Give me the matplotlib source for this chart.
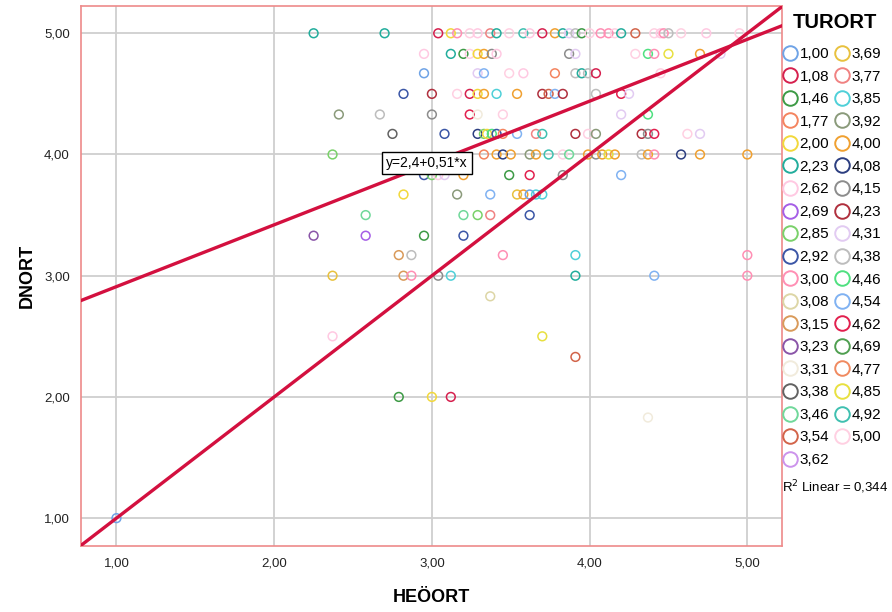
import matplotlib
matplotlib.use('Agg')
import matplotlib.pyplot as plt
from matplotlib.lines import Line2D

plt.rcParams['font.family'] = ['Liberation Sans', 'DejaVu Sans']

# TURORT categories and their colours (legend order)
tur_labels = ['1,00', '1,08', '1,46', '1,77', '2,00', '2,23', '2,62', '2,69', '2,85', '2,92',
              '3,00', '3,08', '3,15', '3,23', '3,31', '3,38', '3,46', '3,54', '3,62',
              '3,69', '3,77', '3,85', '3,92', '4,00', '4,08', '4,15', '4,23', '4,31', '4,38',
              '4,46', '4,54', '4,62', '4,69', '4,77', '4,85', '4,92', '5,00']
tur_colors = ['#6fa3e6', '#d6204e', '#3d9a45', '#f4845f', '#f2d83b', '#22ad9c', '#ffc9e2',
              '#a55ee6', '#7ad16a', '#3b56a6', '#ff8fb4', '#ddd6a6', '#d99a5a', '#8a55a8',
              '#f1ebdc', '#626262', '#70d89a', '#d2644a', '#cc93ec',
              '#e8c13e', '#f08282', '#4fd0d8', '#8a9a7a', '#f0a030', '#2c3e80', '#8c8c8c',
              '#b0303e', '#e2cbf2', '#bdbdbd', '#4fe080', '#80b2f2', '#e2204e', '#4f9f50',
              '#f08a60', '#e8e040', '#3fc0b0', '#ffd0e2']

# points: HEÖORT, DNORT, TURORT
heoort = [2.25, 2.70, 3.04, 3.12, 3.16, 3.24, 3.29, 3.37, 3.41, 3.49, 3.58, 3.62, 3.70, 3.78,
          3.83, 3.87, 3.91, 3.95, 4.00, 4.07, 4.12, 4.16, 4.20, 4.29, 4.41, 4.45, 4.47, 4.50,
          4.58, 4.74, 4.95,
          2.95, 3.12, 3.20, 3.24, 3.29, 3.33, 3.38, 3.41, 3.87, 3.91, 4.29, 4.37, 4.41, 4.50,
          4.70, 4.83,
          2.95, 3.29, 3.33, 3.49, 3.58, 3.78, 3.91, 3.95, 3.99, 4.04, 4.45,
          2.82, 3.00, 3.16, 3.24, 3.29, 3.33, 3.41, 3.54, 3.70, 3.74, 3.78, 3.83, 4.04, 4.20,
          4.25,
          2.41, 2.67, 3.00, 3.24, 3.29, 3.45, 4.20, 4.37,
          2.75, 3.08, 3.29, 3.33, 3.35, 3.38, 3.41, 3.45, 3.54, 3.66, 3.70, 3.91, 3.99, 4.04,
          4.33, 4.37, 4.41, 4.62, 4.70,
          2.37, 3.33, 3.41, 3.45, 3.50, 3.62, 3.66, 3.74, 3.83, 3.87, 3.99, 4.04, 4.08, 4.12,
          4.16, 4.33, 4.37, 4.41, 4.58, 4.70, 5.00,
          2.95, 3.00, 3.04, 3.08, 3.20, 3.49, 3.62, 3.83, 4.20,
          2.82, 3.16, 3.37, 3.54, 3.58, 3.62, 3.66, 3.70,
          2.58, 3.20, 3.29, 3.37, 3.62,
          2.25, 2.58, 2.95, 3.20,
          2.79, 2.87, 3.45, 3.91, 5.00,
          2.37, 2.82, 2.87, 3.04, 3.12, 3.91, 4.41, 5.00,
          3.37, 2.37, 3.70, 3.91, 2.79, 3.00, 3.12, 4.37, 1.00]
dnort = [5.00] * 31 + [4.83] * 16 + [4.67] * 11 + [4.50] * 15 + [4.33] * 8 + [4.17] * 19 \
    + [4.00] * 21 + [3.83] * 9 + [3.67] * 8 + [3.50] * 5 + [3.33] * 4 + [3.17] * 5 \
    + [3.00] * 8 + [2.83, 2.50, 2.50, 2.33, 2.00, 2.00, 2.00, 1.83, 1.00]
turort = ['2,23', '2,23', '1,08', '2,00', '3,00', '5,00', '2,62', '3,77', '2,23', '5,00', '4,92',
          '2,62', '1,08', '4,00', '2,23', '4,31', '4,38', '1,46', '5,00', '3,00', '3,00', '5,00',
          '2,23', '3,54', '5,00', '2,62', '3,00', '4,38', '5,00', '2,62', '5,00',
          '2,62', '2,23', '1,46', '5,00', '2,00', '4,00', '4,15', '2,62', '4,15', '4,31', '5,00',
          '4,46', '3,00', '4,85', '4,00', '4,31',
          '1,00', '4,31', '4,54', '5,00', '2,62', '1,77', '4,38', '2,23', '4,38', '1,08', '5,00',
          '2,92', '4,23', '5,00', '1,08', '2,00', '4,00', '3,85', '4,00', '4,23', '3,54', '4,54',
          '4,23', '4,38', '4,62', '4,31',
          '3,92', '4,38', '4,15', '4,62', '3,31', '5,00', '4,31', '4,46',
          '3,38', '2,92', '4,08', '2,85', '2,00', '4,46', '2,92', '1,77', '4,54', '3,77', '4,92',
          '4,23', '5,00', '3,92', '4,23', '4,15', '4,62', '5,00', '4,31',
          '2,85', '1,77', '4,00', '4,08', '4,00', '3,92', '4,00', '4,92', '5,00', '3,46', '4,00',
          '4,15', '4,00', '4,85', '4,00', '4,38', '4,00', '3,00', '4,08', '4,00', '4,00',
          '2,92', '2,85', '2,62', '4,31', '4,00', '1,46', '4,62', '4,15', '4,54',
          '2,00', '3,92', '4,54', '3,69', '4,00', '1,00', '3,85', '3,85',
          '3,46', '3,46', '2,85', '3,77', '2,92',
          '3,23', '2,69', '1,46', '2,92',
          '3,15', '4,38', '3,00', '3,85', '3,00',
          '3,69', '3,15', '3,00', '4,15', '3,85', '2,23', '4,54', '3,00',
          '3,08', '2,62', '4,85', '3,54', '1,46', '2,00', '1,08', '3,31', '1,00']

intercept, slope = 2.4, 0.51
r2_text = 'R$^2$ Linear = 0,344'

x_ticks = [1, 2, 3, 4, 5]
y_ticks = [1, 2, 3, 4, 5]

fig = plt.figure(figsize=(8.92, 6.12), dpi=100)
ax = fig.add_axes([0.0908, 0.1078, 0.7859, 0.8824])

color_of = dict(zip(tur_labels, tur_colors))
ax.scatter(heoort, dnort, s=40, facecolors='none',
           edgecolors=[color_of[t] for t in turort], linewidths=1.1, zorder=3)

xmin, xmax = 0.775, 5.22
ymin, ymax = 0.77, 5.225
red = '#d3103f'
ax.plot([xmin, xmax], [xmin, xmax], color=red, lw=2.4, zorder=4)
ax.plot([xmin, xmax], [intercept + slope * xmin, intercept + slope * xmax],
        color=red, lw=2.4, zorder=4)
ax.set_xlim(xmin, xmax)
ax.set_ylim(ymin, ymax)

ax.text(2.97, 3.93, 'y=2,4+0,51*x', fontsize=10, ha='center', va='center', zorder=5,
        bbox=dict(boxstyle='square,pad=0.3', facecolor='white', edgecolor='black', lw=1))

ax.set_xticks(x_ticks)
ax.set_yticks(y_ticks)
ax.set_xticklabels([('%.2f' % v).replace('.', ',') for v in x_ticks])
ax.set_yticklabels([('%.2f' % v).replace('.', ',') for v in y_ticks])
ax.tick_params(length=0, labelsize=9.5, pad=8, colors='#222222')
ax.grid(True, color='#cfcfcf', lw=1.3)
ax.set_axisbelow(True)
for s in ax.spines.values():
    s.set_color('#ee8a8a')
    s.set_linewidth(1.2)

ax.set_xlabel('HEÖORT', fontsize=13, fontweight='bold', labelpad=14)
ax.set_ylabel('DNORT', fontsize=13, fontweight='bold', labelpad=6)

# legend (title drawn separately to match the spacing)
fig.text(835 / 892, 1 - 23 / 612, 'TURORT', fontsize=14.5, fontweight='bold',
         ha='center', va='center')
handles = [Line2D([], [], ls='none', marker='o', markersize=10.5, markerfacecolor='none',
                  markeredgecolor=c, markeredgewidth=1.4) for c in tur_colors]
leg = fig.legend(handles, tur_labels, ncol=2, loc='upper left',
                 bbox_to_anchor=(0.8785, 1 - 47 / 612), frameon=False, fontsize=11,
                 handlelength=0.9, handletextpad=0.15, columnspacing=0.4,
                 labelspacing=0.56, borderaxespad=0, borderpad=0)
fig.text(0.877, 1 - 487 / 612, r2_text, fontsize=9.5, ha='left', va='center')

fig.savefig('out.png', dpi=100, facecolor='white')
